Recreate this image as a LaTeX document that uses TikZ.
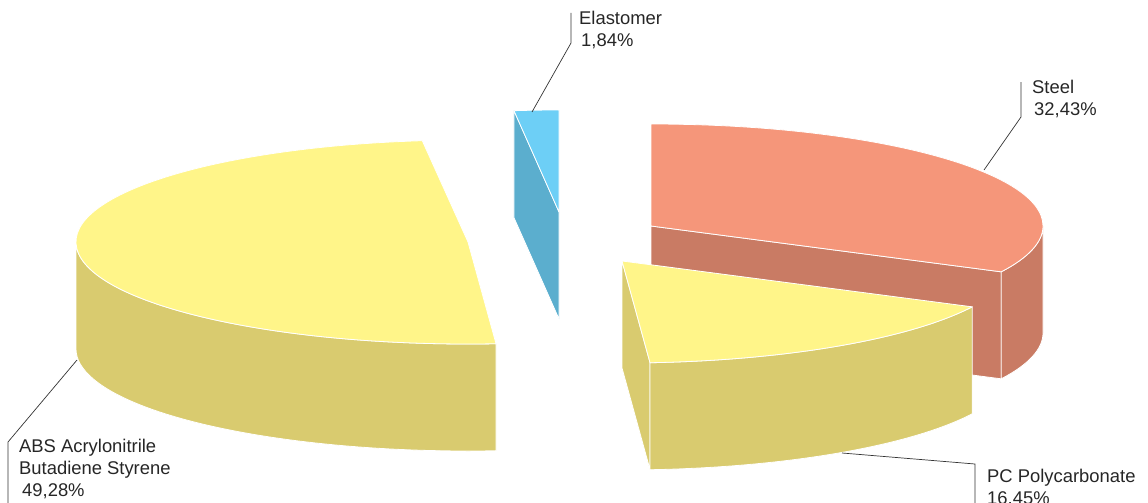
\documentclass[tikz,border=0pt]{standalone}
\usepackage{fontspec}
\setmainfont{Liberation Sans}
\usetikzlibrary{calc, positioning}
\definecolor{absTop}{HTML}{FFF589}
\definecolor{absSide}{HTML}{D9CB6F}
\definecolor{steelTop}{HTML}{F5967A}
\definecolor{steelSide}{HTML}{C97B64}
\definecolor{elastTop}{HTML}{6DCFF6}
\definecolor{elastSide}{HTML}{5BAECE}
\tikzstyle{face} = [draw=white, line width=0.8pt, line join=round]
\tikzstyle{rad} = [x radius=392pt, y radius=102pt]
\tikzstyle{leader} = [draw=black!80, line width=0.7pt]
\tikzstyle{lbl} = [font=\fontsize{18.4}{22}\selectfont, text=black!85, align=left, inner sep=0pt, anchor=base west]
\newcommand{\rim}{392pt and 102pt}

\begin{document}
\begin{tikzpicture}[x=1pt, y=1pt]
		\useasboundingbox (0,0) rectangle (1148,-503);
		\coordinate (elastC) at (559,-212);
		\coordinate (steelC) at (651,-226);
		\coordinate (absC) at (468,-242);
		\coordinate (pcC) at (622,-261);
		% Elastomer
		\filldraw [face, fill=elastSide] (elastC) -- ($(elastC)+(96.6:\rim)$) -- ++(0,-107) -- ($(elastC)+(0,-107)$) -- cycle;
		\filldraw [face, fill=elastTop] (elastC) -- ($(elastC)+(96.6:\rim)$) arc[start angle=96.6, end angle=90, rad] -- cycle;
		% Steel
		\filldraw [face, fill=steelSide] (steelC) -- ($(steelC)+(-26.7:\rim)$) -- ++(0,-107) -- ($(steelC)+(0,-107)$) -- cycle;
		\filldraw [face, fill=steelSide] ($(steelC)+(0:\rim)$) arc[start angle=0, end angle=-26.7, rad] -- ++(0,-107) arc[start angle=-26.7, end angle=0, rad] -- cycle;
		\filldraw [face, fill=steelTop] (steelC) -- ($(steelC)+(90:\rim)$) arc[start angle=90, end angle=-26.7, rad] -- cycle;
		% ABS
		\filldraw [face, fill=absSide] ($(absC)+(180:\rim)$) arc[start angle=180, end angle=274.1, rad] -- ++(0,-107) arc[start angle=274.1, end angle=180, rad] -- cycle;
		\filldraw [face, fill=absTop] (absC) -- ($(absC)+(96.7:\rim)$) arc[start angle=96.7, end angle=274.1, rad] -- cycle;
		% PC
		\filldraw [face, fill=absSide] (pcC) -- ($(pcC)+(-85.9:\rim)$) -- ++(0,-107) -- ($(pcC)+(0,-107)$) -- cycle;
		\filldraw [face, fill=absSide] ($(pcC)+(-85.9:\rim)$) arc[start angle=-85.9, end angle=-26.7, rad] -- ++(0,-107) arc[start angle=-26.7, end angle=-85.9, rad] -- cycle;
		\filldraw [face, fill=absTop] (pcC) -- ($(pcC)+(-85.9:\rim)$) arc[start angle=-85.9, end angle=-26.7, rad] -- cycle;

		\node (elastLbl) [lbl] at (579,-47) {Elastomer\\\hspace{2pt}1,84\%};
		\node (steelLbl) [lbl] at (1032,-115) {Steel\\\hspace{2pt}32,43\%};
		\node (pcLbl) [lbl] at (987,-504) {PC Polycarbonate\\16,45\%};
		\node (absLbl) [lbl] at (19,-496) {ABS Acrylonitrile\\Butadiene Styrene\\\hspace{3pt}49,28\%};

		\coordinate (elastPin) at (532,-112);
		\coordinate (elastBend) at (571,-43);
		\coordinate (elastEnd) at (571,-13);
		\coordinate (steelPin) at (984,-170);
		\coordinate (steelBend) at (1021,-117);
		\coordinate (steelEnd) at (1021,-82);
		\coordinate (pcPin) at (842,-453);
		\coordinate (pcBend) at (975,-464);
		\coordinate (pcEnd) at (975,-503);
		\coordinate (absPin) at (77,-360);
		\coordinate (absBend) at (8,-442);
		\coordinate (absEnd) at (8,-503);
		\draw [leader] (elastPin) -- (elastBend) -- (elastEnd);
		\draw [leader] (steelPin) -- (steelBend) -- (steelEnd);
		\draw [leader] (pcPin) -- (pcBend) -- (pcEnd);
		\draw [leader] (absPin) -- (absBend) -- (absEnd);
	\end{tikzpicture}
\end{document}
